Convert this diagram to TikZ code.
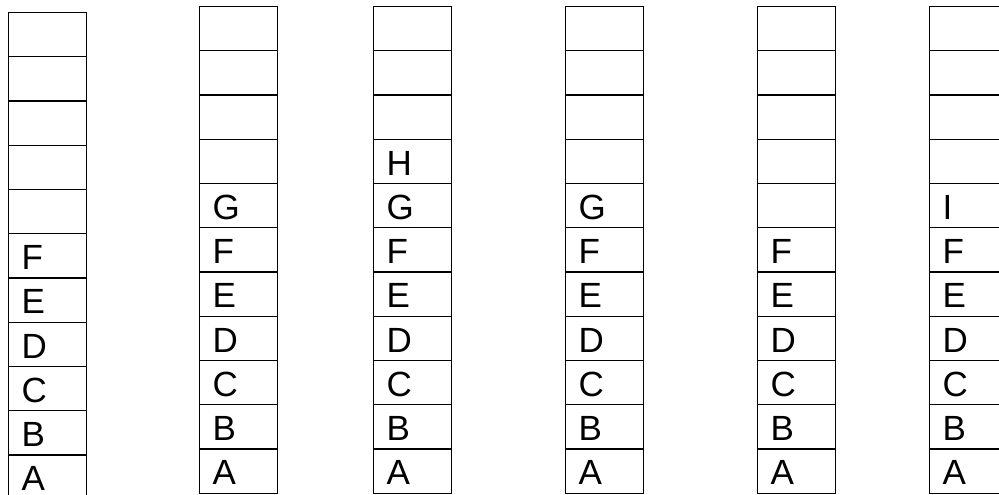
\documentclass[tikz,border=0pt]{standalone}
\usepackage{fontspec}
\setmainfont{Liberation Sans}

\begin{document}
\begin{tikzpicture}[
  x=1pt, y=1pt,
  every node/.style={font=\fontsize{35}{40}\selectfont},
  cellbox/.style={draw,line width=1.3pt,minimum width=77.5pt,minimum height=44.25pt,
                  inner sep=0pt,anchor=south west},
  celltxt/.style={anchor=base west,inner sep=0pt},
]
  \useasboundingbox (0,0) rectangle (999,495);
  % Stacks: number / left edge / bottom edge / letters from the bottom up
  \foreach \s/\xl/\yb/\items in {1/8/-5/{A,B,C,D,E,F},
                                 2/199/1/{A,B,C,D,E,F,G},
                                 3/373/1/{A,B,C,D,E,F,G,H},
                                 4/565/1/{A,B,C,D,E,F,G},
                                 5/757/1/{A,B,C,D,E,F},
                                 6/929/1/{A,B,C,D,E,F,I}}{
    % 11 cells per stack
    \foreach \i in {1,...,11}
      \node[cellbox] (s\s-\i) at (\xl,{\yb+(\i-1)*44.25}) {};
    % Letters
    \foreach \t [count=\i] in \items
      \node[celltxt] (t\s-\i) at ([shift={(13.5pt,9pt)}]s\s-\i.south west) {\t};
  }
\end{tikzpicture}
\end{document}
